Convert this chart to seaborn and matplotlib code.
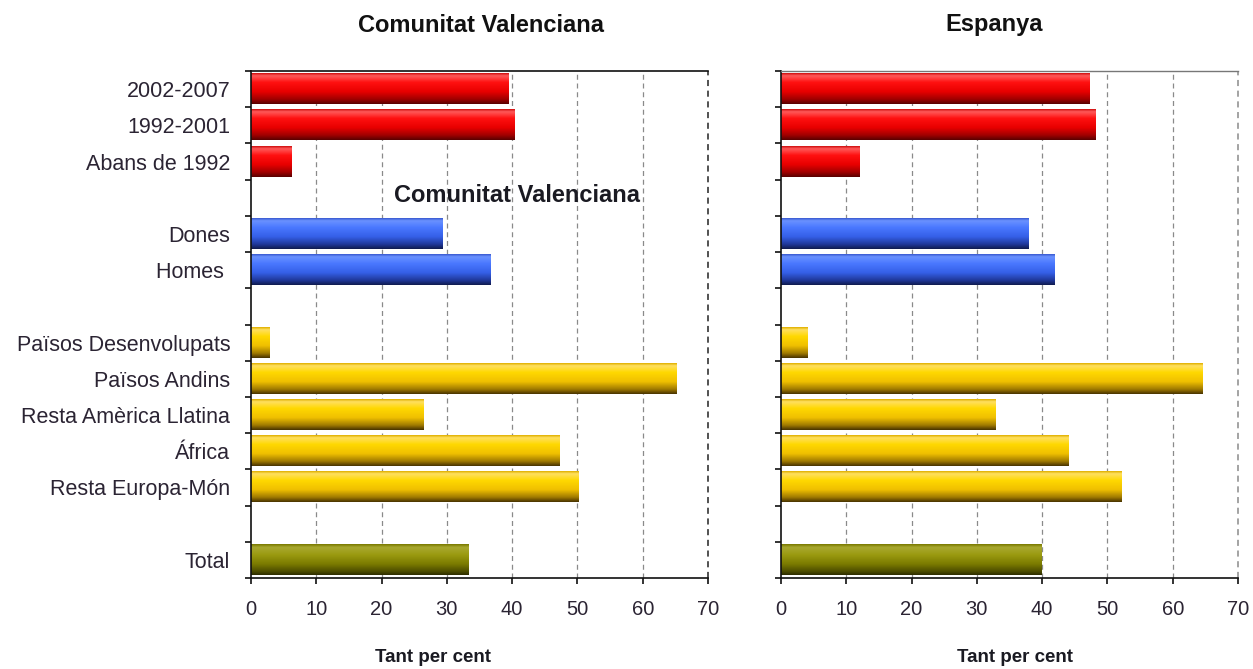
import numpy as np
import pandas as pd
import matplotlib
matplotlib.use("Agg")
import matplotlib.pyplot as plt
import seaborn as sns

# ---------------- data ----------------
categories = ["2002-2007", "1992-2001", "Abans de 1992",
              "Dones", "Homes ",
              "Països Desenvolupats", "Països Andins", "Resta Amèrica Llatina",
              "África", "Resta Europa-Món",
              "Total"]
groups = ["periode", "periode", "periode",
          "sexe", "sexe",
          "origen", "origen", "origen", "origen", "origen",
          "total"]
valencia = [39.5, 40.3, 6.2, 29.4, 36.7, 2.9, 65.1, 26.4, 47.2, 50.1, 33.3]
espanya = [47.2, 48.2, 12.0, 37.9, 41.9, 4.1, 64.5, 32.8, 44.1, 52.1, 39.9]
panel_titles = ["Comunitat Valenciana", "Espanya"]
x_ticks = [0, 10, 20, 30, 40, 50, 60, 70]
x_label = "Tant per cent"

# ---------------- style ----------------
sns.set_theme(style="white")
plt.rcParams["font.family"] = ["Liberation Sans", "DejaVu Sans"]

gradients = {
    "periode": [(0.0, "#d01010"), (0.08, "#ff5a5a"), (0.3, "#ff1010"),
                (0.6, "#e80000"), (0.85, "#a00000"), (1.0, "#5a0000")],
    "sexe": [(0.0, "#3a5ad0"), (0.08, "#6a92ff"), (0.3, "#4a78ff"),
             (0.6, "#3560e8"), (0.85, "#20389a"), (1.0, "#101c50")],
    "origen": [(0.0, "#e0b000"), (0.08, "#ffe060"), (0.3, "#ffd800"),
               (0.6, "#f0c000"), (0.85, "#a07a00"), (1.0, "#4a3500")],
    "total": [(0.0, "#7a7a00"), (0.1, "#a8a830"), (0.35, "#9a9a10"),
              (0.65, "#7a7a00"), (0.88, "#4f4f00"), (1.0, "#2e2e00")],
}
base_colors = {"periode": "#ee0000", "sexe": "#3a66f0",
               "origen": "#f2c400", "total": "#888800"}

# build order with blank spacer slots between groups
order = []
spacer = 0
prev = None
for c, g in zip(categories, groups):
    if prev is not None and g != prev:
        spacer += 1
        order.append(" " * spacer + "_gap")
    order.append(c)
    prev = g
n_slots = len(order)


def grad_image(stops, n=64):
    f = np.linspace(0, 1, n)
    pos = [s[0] for s in stops]
    rgb = np.array([matplotlib.colors.to_rgb(s[1]) for s in stops])
    img = np.stack([np.interp(f, pos, rgb[:, k]) for k in range(3)], axis=-1)
    return img[:, None, :]


W, H = 1253, 669
fig = plt.figure(figsize=(W / 100, H / 100), dpi=100)
ax_top, ax_bot = 71, 578
lefts = [251, 781]
width_px = 457
text_color = "#2b2433"

for i, (vals, title) in enumerate(zip([valencia, espanya], panel_titles)):
    ax = fig.add_axes([lefts[i] / W, 1 - ax_bot / H, width_px / W, (ax_bot - ax_top) / H])
    df = pd.DataFrame({"cat": categories, "val": vals, "grp": groups})
    sns.barplot(data=df, x="val", y="cat", hue="grp", order=order,
                hue_order=list(base_colors.keys()), palette=base_colors,
                orient="h", width=0.83, dodge=False, legend=False, ax=ax,
                linewidth=0, saturation=1)
    ax.set_xlim(0, 70)
    ax.set_ylim(n_slots - 0.5, -0.5)
    xl, yl = ax.get_xlim(), ax.get_ylim()
    # gradient fill over each bar
    cat_group = dict(zip(categories, groups))
    for patch in list(ax.patches):
        w = patch.get_width()
        if not np.isfinite(w) or w <= 0:
            continue
        y0 = patch.get_y()
        h = patch.get_height()
        yc = y0 + h / 2
        cat = order[int(round(yc))]
        g = cat_group[cat]
        ax.imshow(grad_image(gradients[g]), extent=(0, w, y0 + h, y0),
                  origin="upper", aspect="auto", zorder=patch.get_zorder() + 0.1,
                  interpolation="bilinear")
    ax.set_xlim(xl)
    ax.set_ylim(yl)

    # grid
    for xv in x_ticks[1:]:
        edge = xv == x_ticks[-1]
        col = ("#222222" if i == 0 else "#8a8a8a") if edge else "#8a8a8a"
        ax.axvline(xv, color=col, lw=1.1 if edge else 0.9, ls=(0, (4, 3)),
                   zorder=0.5, clip_on=False)
    ax.set_axisbelow(True)

    # spines
    for s in ["left", "bottom"]:
        ax.spines[s].set_visible(True)
        ax.spines[s].set_color("#111111")
        ax.spines[s].set_linewidth(1.2)
    ax.spines["top"].set_visible(True)
    ax.spines["top"].set_color("#111111" if i == 0 else "#777777")
    ax.spines["top"].set_linewidth(1.2 if i == 0 else 1.0)
    ax.spines["right"].set_visible(False)

    # x ticks
    ax.set_xticks(x_ticks)
    ax.set_xticklabels([str(t) for t in x_ticks])
    ax.tick_params(axis="x", direction="out", length=4, width=1.2, color="#111111",
                   labelsize=14.5, labelcolor=text_color, pad=12, bottom=True)
    ax.set_xlabel("")
    ax.set_ylabel("")

    # y ticks: marks on slot boundaries, labels at slot centres
    ax.set_yticks(np.arange(-0.5, n_slots, 1.0))
    ax.set_yticklabels([])
    ax.tick_params(axis="y", which="major", direction="out", length=4, width=1.2,
                   color="#111111", left=True)
    if i == 0:
        centres = [order.index(c) for c in categories]
        ax.set_yticks(centres, minor=True)
        ax.set_yticklabels(categories, minor=True)
        ax.tick_params(axis="y", which="minor", length=0, labelsize=15.5,
                       labelcolor=text_color, pad=15, left=True)
    ax.grid(False)

# panel titles
fig.text(481 / W, 1 - 25 / H, panel_titles[0], ha="center", va="center",
         fontsize=17, fontweight="bold", color="#111111")
fig.text(994 / W, 1 - 25 / H, panel_titles[1], ha="center", va="center",
         fontsize=17, fontweight="bold", color="#111111")
# stray inner label
fig.text(517 / W, 1 - 196 / H, panel_titles[0], ha="center", va="center",
         fontsize=17, fontweight="bold", color="#1a1a22")
# x labels
fig.text(433 / W, 1 - 657 / H, x_label, ha="center", va="center",
         fontsize=13.5, fontweight="bold", color="#1a1a22")
fig.text(1015 / W, 1 - 657 / H, x_label, ha="center", va="center",
         fontsize=13.5, fontweight="bold", color="#1a1a22")

fig.savefig("out.png", dpi=100, facecolor="white")
